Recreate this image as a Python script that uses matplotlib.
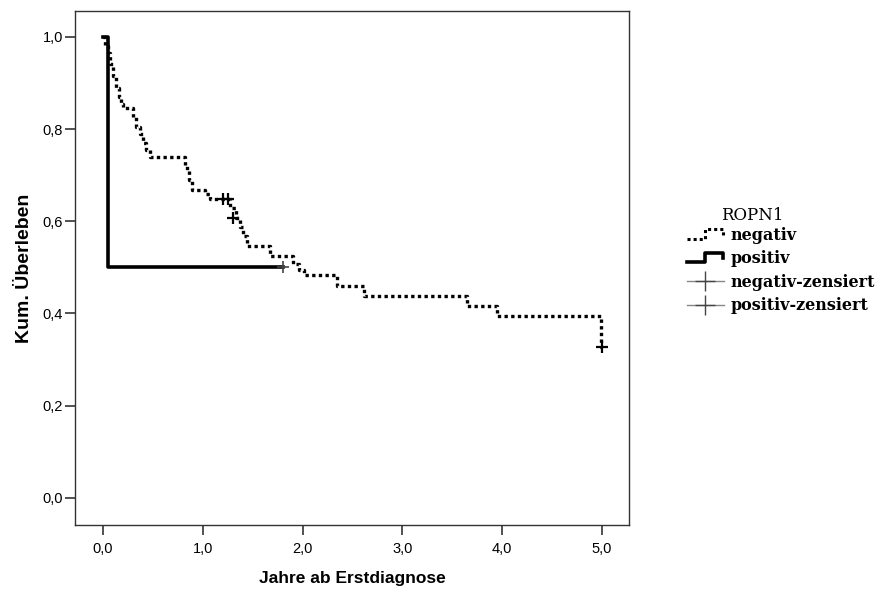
import matplotlib
matplotlib.use("Agg")
import matplotlib.pyplot as plt
from matplotlib.lines import Line2D
from matplotlib.legend_handler import HandlerBase

# ---- data ----
neg_times = [0.0, 0.02, 0.05, 0.07, 0.10, 0.13, 0.16, 0.18, 0.20, 0.30, 0.33, 0.37, 0.40,
             0.43, 0.47, 0.82, 0.86, 0.89, 1.02, 1.07, 1.27, 1.33, 1.37, 1.40, 1.44,
             1.67, 1.90, 1.96, 2.01, 2.34, 2.62, 3.65, 3.95, 4.99]
neg_surv = [1.0, 0.98, 0.965, 0.94, 0.915, 0.89, 0.87, 0.855, 0.845, 0.825, 0.805, 0.79,
            0.77, 0.755, 0.74, 0.715, 0.69, 0.668, 0.658, 0.648, 0.628, 0.608, 0.588,
            0.568, 0.547, 0.525, 0.508, 0.495, 0.484, 0.460, 0.437, 0.416, 0.394, 0.327]
neg_end = 5.0
neg_cens_t = [1.20, 1.25, 1.30, 5.00]
neg_cens_s = [0.648, 0.648, 0.608, 0.327]

pos_times = [0.0, 0.05]
pos_surv = [1.0, 0.5]
pos_end = 1.80
pos_cens_t = [1.80]
pos_cens_s = [0.5]

x_ticks = [0, 1, 2, 3, 4, 5]
y_ticks = [0.0, 0.2, 0.4, 0.6, 0.8, 1.0]
legend_title = "ROPN1"
legend_labels = ["negativ", "positiv", "negativ-zensiert", "positiv-zensiert"]

fig = plt.figure(figsize=(8.88, 5.96), dpi=100)
ax = fig.add_axes([75/888, 1-525/596, (629-75)/888, (525-11)/596])

ax.step(neg_times + [neg_end], neg_surv + [neg_surv[-1]], where="post",
        color="black", lw=2.4, linestyle=(0, (1, 1)), dash_capstyle="butt")
ax.step(pos_times + [pos_end], pos_surv + [pos_surv[-1]], where="post",
        color="black", lw=2.6)
ax.plot(neg_cens_t, neg_cens_s, linestyle="none", marker="+", ms=9, mew=1.6, color="black")
ax.plot(pos_cens_t, pos_cens_s, linestyle="none", marker="+", ms=9, mew=1.2, color="#444444")

ax.set_xlim(-0.28, 5.27)
ax.set_ylim(-0.059, 1.056)
ax.set_xticks(x_ticks)
ax.set_xticklabels([f"{v:.1f}".replace(".", ",") for v in x_ticks])
ax.set_yticks(y_ticks)
ax.set_yticklabels([f"{v:.1f}".replace(".", ",") for v in y_ticks])

for s in ax.spines.values():
    s.set_color("#333333")
    s.set_linewidth(1.0)
ax.tick_params(axis="both", direction="out", length=7, width=1.2, color="#333333",
               labelsize=10.5, pad=1.5)
for lab in ax.get_xticklabels() + ax.get_yticklabels():
    lab.set_family("Liberation Sans")
ax.tick_params(axis="x", pad=5)

ax.set_xlabel("Jahre ab Erstdiagnose", family="Liberation Sans", fontweight="bold",
              fontsize=12.5, labelpad=11)
ax.set_ylabel("Kum. Überleben", family="Liberation Sans", fontweight="bold",
              fontsize=14, labelpad=7)


class StepHandler(HandlerBase):
    def __init__(self, ls, lw):
        super().__init__()
        self.ls = ls
        self.lw = lw

    def create_artists(self, legend, orig_handle, xdescent, ydescent, width, height,
                       fontsize, trans):
        xs = [-xdescent, -xdescent + 0.5 * width, -xdescent + 0.5 * width,
              -xdescent + 0.97 * width, -xdescent + 0.97 * width]
        ys = [-ydescent + 0.1 * height, -ydescent + 0.1 * height, -ydescent + 0.95 * height,
              -ydescent + 0.95 * height, -ydescent + 0.45 * height]
        ln = Line2D(xs, ys, color="black", lw=self.lw, linestyle=self.ls, transform=trans)
        return [ln]


h_neg = Line2D([], [], color="black")
h_pos = Line2D([], [], color="black", lw=2.5)
h_nc = Line2D([], [], color="#888888", lw=1.0, marker="+", ms=15, mew=1.0, mec="#444444")
h_pc = Line2D([], [], color="#888888", lw=1.0, marker="+", ms=15, mew=1.0, mec="#444444")

leg = ax.legend([h_neg, h_pos, h_nc, h_pc], legend_labels,
                handler_map={h_neg: StepHandler((0, (1, 1)), 2.2),
                             h_pos: StepHandler("-", 2.6)},
                loc="upper left", bbox_to_anchor=(687/888, 1-227/596),
                bbox_transform=fig.transFigure, frameon=False,
                prop={"family": "DejaVu Serif", "weight": "bold", "size": 11.5},
                handlelength=2.3, handletextpad=0.4, labelspacing=0.4, borderpad=0,
                borderaxespad=0)
fig.text(752/888, 1-215/596, legend_title, family="DejaVu Serif", fontsize=12,
         ha="center", va="center")

fig.savefig("out.png", dpi=100)
